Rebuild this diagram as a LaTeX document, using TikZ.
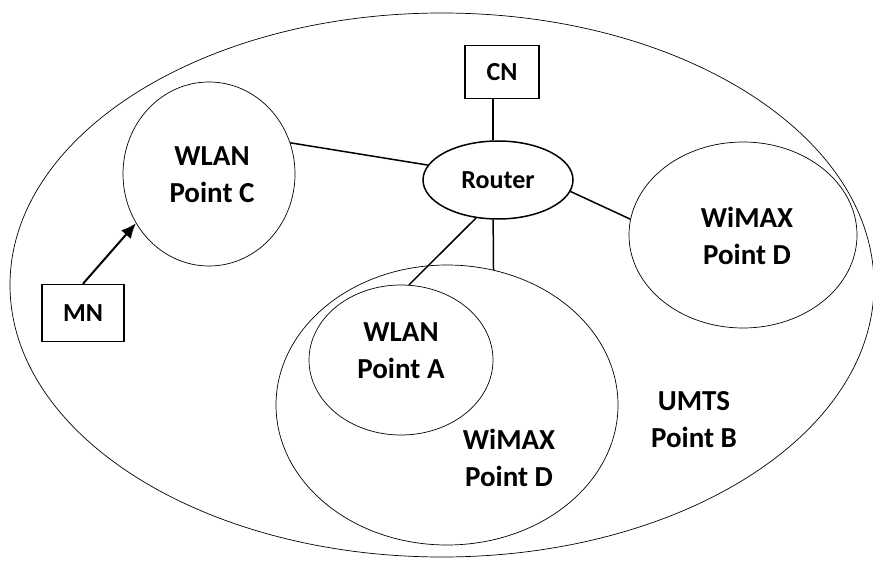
\documentclass[tikz,border=0pt]{standalone}
\usepackage{fontspec}
\setmainfont{Carlito}
\usetikzlibrary{shapes.geometric,arrows.meta}

\tikzset{
  cell/.style={draw,ellipse,line width=0.7pt,inner sep=0pt},
  area/.style={font=\fontsize{29}{37}\selectfont\bfseries,align=center,inner sep=0pt},
  host/.style={draw,rectangle,line width=1.5pt,inner sep=0pt,font=\fontsize{26}{30}\selectfont\bfseries},
  link/.style={line width=1.5pt}
}

\begin{document}
\begin{tikzpicture}[x=1pt,y=-1pt]
\useasboundingbox (0,0) rectangle (873,561);
% coverage areas
\node[cell,minimum width=864,minimum height=544] (umts) at (442,285) {};
\node[cell,minimum width=172,minimum height=184] (wlanC) at (209,174) {};
\node[cell,minimum width=228,minimum height=186] (wimaxR) at (743,235) {};
\node[cell,minimum width=342,minimum height=280] (wimaxB) at (447,405) {};
\node[cell,minimum width=184,minimum height=150] (wlanA) at (401,360) {};
% area names
\node[area] (wlanCtxt) at (212,175) {WLAN\\Point C};
\node[area] (wlanAtxt) at (401,351) {WLAN\\Point A};
\node[area] (wimaxRtxt) at (747,236) {WiMAX\\Point D};
\node[area] (wimaxBtxt) at (509,458) {WiMAX\\Point D};
\node[area] (umtsTxt) at (694,420) {UMTS\\Point B};
% hosts
\node[host,minimum width=74,minimum height=53] (cn) at (502,72) {CN};
\node[host,minimum width=82,minimum height=57] (mn) at (83,313) {MN};
\node[host,ellipse,minimum width=150,minimum height=78] (router) at (498,180) {Router};
% links
\draw[link] (router.97) -- (router.97 |- cn.south);
\draw[link] (router.168) -- (wlanC.21);
\draw[link] (router.351) -- (wimaxR.172);
\draw[link] (router.240) -- (wlanA.84);
\draw[link] (router.263) -- (wimaxB.71);
\draw[line width=2pt,-{Latex[length=15pt,width=13pt]}] (mn.north) -- (wlanC.214);
\end{tikzpicture}
\end{document}
